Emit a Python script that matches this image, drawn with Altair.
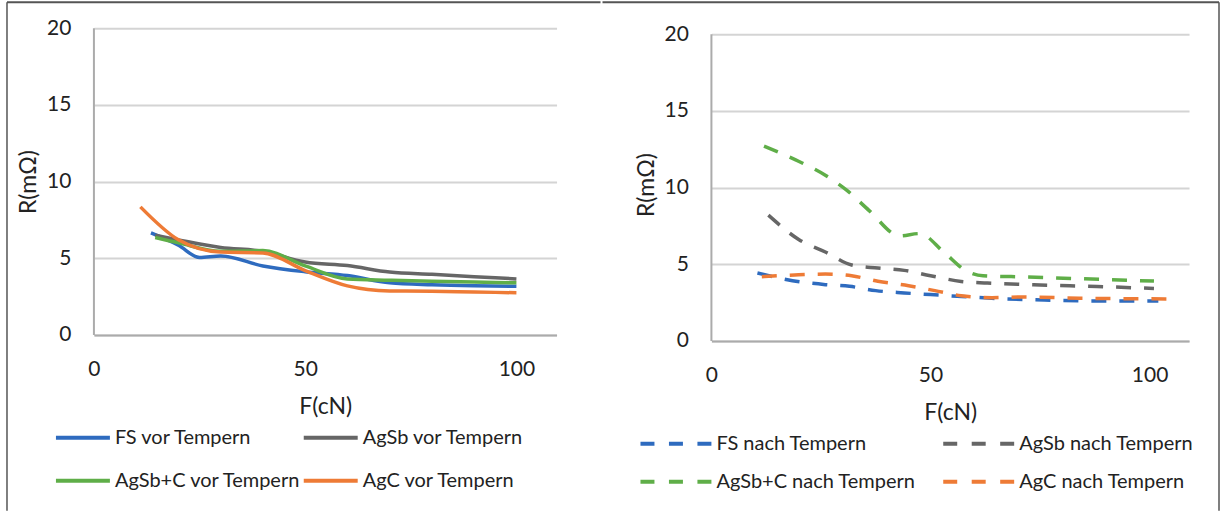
import altair as alt
import pandas as pd

# ---------------- data ----------------
X_TICKS = [0, 50, 100]
Y_TICKS = [0, 5, 10, 15, 20]

SERIES_VOR = ["FS vor Tempern", "AgSb vor Tempern", "AgSb+C vor Tempern", "AgC vor Tempern"]
SERIES_NACH = ["FS nach Tempern", "AgSb nach Tempern", "AgSb+C nach Tempern", "AgC nach Tempern"]
COLORS = ["#2E6BBF", "#666666", "#5FAE48", "#EE7B36"]

FS_VOR_F = [13.5, 20, 25, 30, 40, 50, 60, 70, 80, 90, 100]
FS_VOR_R = [6.65, 5.85, 5.05, 5.15, 4.5, 4.12, 3.87, 3.4, 3.27, 3.2, 3.17]

AGSB_VOR_F = [14.5, 20, 30, 40, 50, 60, 70, 80, 90, 100]
AGSB_VOR_R = [6.5, 6.2, 5.7, 5.45, 4.75, 4.52, 4.1, 3.95, 3.8, 3.65]

AGSBC_VOR_F = [14.5, 20, 30, 40, 50, 60, 70, 80, 90, 100]
AGSBC_VOR_R = [6.35, 6.0, 5.45, 5.5, 4.5, 3.65, 3.57, 3.5, 3.45, 3.4]

AGC_VOR_F = [11, 20, 30, 40, 50, 60, 70, 80, 90, 100]
AGC_VOR_R = [8.35, 6.2, 5.4, 5.35, 4.2, 3.2, 2.87, 2.85, 2.8, 2.75]

FS_NACH_F = [10.5, 18.5, 26, 31.5, 37.5, 44, 50, 57, 64, 76, 89, 102]
FS_NACH_R = [4.43, 3.93, 3.67, 3.56, 3.28, 3.13, 3.02, 2.9, 2.78, 2.67, 2.6, 2.6]

AGSB_NACH_F = [13, 20, 26, 32, 38, 44, 50, 57, 63, 75, 88, 101]
AGSB_NACH_R = [8.2, 6.6, 5.8, 4.95, 4.75, 4.6, 4.25, 3.88, 3.78, 3.65, 3.55, 3.42]

AGSBC_NACH_F = [12, 20, 26, 31, 36, 43, 47.5, 53, 58, 62, 72, 90, 101]
AGSBC_NACH_R = [12.7, 11.7, 10.8, 9.8, 8.5, 6.85, 7.0, 5.8, 4.6, 4.25, 4.17, 4.0, 3.9]

AGC_NACH_F = [11.5, 19, 26, 32, 38, 45, 51, 57, 64, 71, 84, 104.5]
AGC_NACH_R = [4.19, 4.3, 4.36, 4.25, 3.89, 3.6, 3.28, 2.95, 2.82, 2.87, 2.78, 2.74]

Y_MAX = 20
AXIS_LINE = [0, Y_MAX]

FONT = "Lato"
TEXT = "#222222"


def frame_df(names, fs, rs):
    rows = []
    for name, f_list, r_list in zip(names, fs, rs):
        for f, r in zip(f_list, r_list):
            rows.append({"F": f, "R": r, "Serie": name})
    return pd.DataFrame(rows)


vor_df = frame_df(SERIES_VOR,
                  [FS_VOR_F, AGSB_VOR_F, AGSBC_VOR_F, AGC_VOR_F],
                  [FS_VOR_R, AGSB_VOR_R, AGSBC_VOR_R, AGC_VOR_R])
nach_df = frame_df(SERIES_NACH,
                   [FS_NACH_F, AGSB_NACH_F, AGSBC_NACH_F, AGC_NACH_F],
                   [FS_NACH_R, AGSB_NACH_R, AGSBC_NACH_R, AGC_NACH_R])
axis_df = pd.DataFrame({"r0": [AXIS_LINE[0]], "r1": [AXIS_LINE[1]]})


def x_enc(xmax):
    return alt.X("F:Q", scale=alt.Scale(domain=[0, xmax], nice=False, zero=True),
                 axis=alt.Axis(values=X_TICKS, title="F(cN)", grid=False, ticks=False,
                               domainColor="#ABABAB", domainWidth=2, labelFlush=False,
                               labelFont=FONT, labelFontSize=21, labelColor=TEXT,
                               labelPadding=24,
                               titleFont=FONT, titleFontSize=23, titleColor=TEXT,
                               titleFontWeight="normal", titlePadding=16))


def y_enc(ymax):
    return alt.Y("R:Q", scale=alt.Scale(domain=[0, ymax], nice=False),
                 axis=alt.Axis(values=Y_TICKS, title="R(mΩ)", grid=True, gridColor="#D4D4D4",
                               gridWidth=2, ticks=False, domain=False,
                               labelFont=FONT, labelFontSize=21, labelColor=TEXT,
                               labelPadding=23,
                               titleFont=FONT, titleFontSize=23, titleColor=TEXT,
                               titleFontWeight="normal", titlePadding=6))


def legend(lx, ly, colpad, rowpad, size, dash=None):
    kw = dict(orient="none", legendX=lx, legendY=ly, columns=2, direction="horizontal",
              title=None, symbolType="stroke", symbolSize=size, symbolStrokeWidth=4,
              clipHeight=20,
              labelFont=FONT, labelFontSize=20, labelColor=TEXT, labelOffset=3,
              labelLimit=0, columnPadding=colpad, rowPadding=rowpad, padding=0)
    if dash is not None:
        kw["symbolDash"] = dash
    return alt.Legend(**kw)


dummy = pd.DataFrame({"k": [0]})
FRAME_COLOR = "#555555"


def y_axis_line(ymax):
    return alt.Chart(axis_df).mark_rule(color="#ABABAB", strokeWidth=2).encode(
        x=alt.value(0),
        y=alt.Y("r0:Q", scale=alt.Scale(domain=[0, ymax], nice=False)),
        y2="r1:Q")


# left panel
LEFT_YMAX = Y_MAX
left_lines = alt.Chart(vor_df).mark_line(strokeWidth=3.5, interpolate="monotone").encode(
    x=x_enc(109.5), y=y_enc(LEFT_YMAX),
    color=alt.Color("Serie:N", scale=alt.Scale(domain=SERIES_VOR, range=COLORS),
                    legend=legend(-40, 400, -5, 23, 2916)),
)
left_frame_h = alt.Chart(dummy).mark_rule(color=FRAME_COLOR, strokeWidth=2).encode(
    x=alt.value(-87), x2=alt.value(507), y=alt.value(-26), y2=alt.value(-26))
left_frame_v = alt.Chart(dummy).mark_rule(color=FRAME_COLOR, strokeWidth=1.5).encode(
    x=alt.value(-87), y=alt.value(-26), y2=alt.value(483))
left = alt.layer(y_axis_line(LEFT_YMAX), left_lines, left_frame_h, left_frame_v).properties(
    width=463, height=307)

# right panel: plot area 6 px taller at the top so the 20-line sits lower
RIGHT_YMAX = Y_MAX * 313 / 307
right_lines = alt.Chart(nach_df).mark_line(strokeWidth=3.5, interpolate="monotone",
                                            strokeDash=[15, 13]).encode(
    x=x_enc(109), y=y_enc(RIGHT_YMAX),
    color=alt.Color("Serie:N", scale=alt.Scale(domain=SERIES_NACH, range=COLORS),
                    legend=legend(-73, 406, 25, 18, 5041, dash=[14, 14.5])),
)
right_frame_h = alt.Chart(dummy).mark_rule(color=FRAME_COLOR, strokeWidth=2).encode(
    x=alt.value(-109), x2=alt.value(508), y=alt.value(-26), y2=alt.value(-26))
right_frame_v = alt.Chart(dummy).mark_rule(color=FRAME_COLOR, strokeWidth=1.5).encode(
    x=alt.value(508), y=alt.value(-26), y2=alt.value(483))
right = alt.layer(y_axis_line(RIGHT_YMAX), right_lines, right_frame_h, right_frame_v).properties(
    width=478, height=313)

chart = alt.hconcat(left, right, spacing=0).resolve_scale(
    color="independent", y="independent").properties(
    padding={"left": 6, "top": 1, "right": 0, "bottom": 0},
    background="white",
).configure_view(strokeWidth=0)

chart.save("out.html", embed_options={"renderer": "svg", "actions": False})
